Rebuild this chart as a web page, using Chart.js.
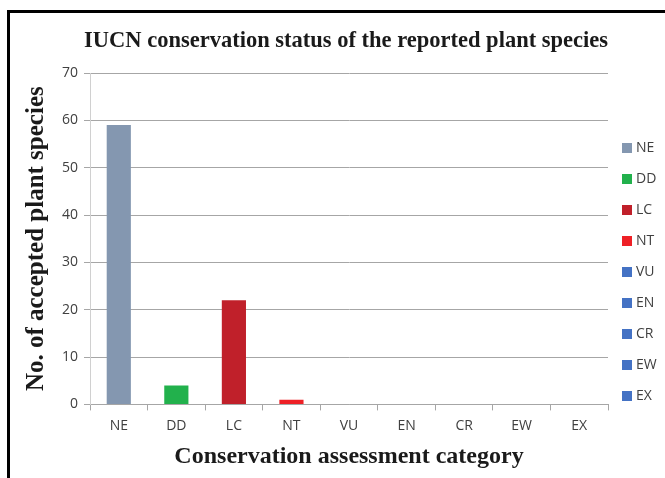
<!DOCTYPE html>
<html>
<head>
<meta charset="utf-8">
<script src="https://cdn.jsdelivr.net/npm/chart.js@4.4.1/dist/chart.umd.min.js"></script>
<style>
    html, body { margin: 0; padding: 0; background: #fff; overflow: hidden; }
    #wrap { position: relative; width: 665px; height: 478px; overflow: hidden; }
    .bar { position: absolute; background: #000; pointer-events: none; }
    canvas { position: absolute; left: 0; top: 0; }
</style>
</head>
<body>
<div id="wrap">
    <canvas id="iucnChart" width="665" height="478"></canvas>
    <div class="bar" style="left:7px; top:10px; width:3px; height:468px;"></div>
    <div class="bar" style="left:7px; top:10px; width:658px; height:3px;"></div>
</div>
<script>
// Categorias IUCN e número de espécies em cada uma
const categories = ['NE', 'DD', 'LC', 'NT', 'VU', 'EN', 'CR', 'EW', 'EX'];
const speciesCount = [59, 4, 22, 1, 0, 0, 0, 0, 0];
const barColors = ['#8497B0', '#22B14C', '#C0202A', '#EE2026', '#4472C4', '#4472C4', '#4472C4', '#4472C4', '#4472C4'];
const yTicks = [0, 10, 20, 30, 40, 50, 60, 70];

const serifBold = { family: "'Liberation Serif', 'Times New Roman', serif", weight: 'bold' };
const sans = "'Open Sans', 'Liberation Sans', sans-serif";

// Legenda desenhada à direita do gráfico, uma entrada por categoria
const sideLegend = {
    id: 'sideLegend',
    afterDraw: function(chart) {
        const c = chart.ctx;
        const area = chart.chartArea;
        const x = area.right + 14;
        const step = 31;
        const firstY = area.top + 75;
        c.save();
        c.font = '14px ' + sans;
        c.textBaseline = 'middle';
        c.textAlign = 'left';
        categories.forEach(function(cat, i) {
            const y = firstY + i * step;
            c.fillStyle = barColors[i];
            c.fillRect(x, y - 5, 10, 10);
            c.fillStyle = '#404040';
            c.fillText(cat, x + 14, y);
        });
        c.restore();
    }
};

document.addEventListener('DOMContentLoaded', function() {
    const ctx = document.getElementById('iucnChart').getContext('2d');
    new Chart(ctx, {
        type: 'bar',
        data: {
            labels: categories,
            datasets: [{
                label: 'Species',
                data: speciesCount,
                backgroundColor: barColors,
                borderWidth: 0,
                barPercentage: 0.42,
                categoryPercentage: 1
            }]
        },
        options: {
            responsive: false,
            animation: false,
            layout: { padding: { top: 28, left: 22, right: 57, bottom: 7 } },
            plugins: {
                title: {
                    display: true,
                    text: 'IUCN conservation status of the reported plant species',
                    align: 'end',
                    color: '#1a1a1a',
                    font: Object.assign({ size: 22.5 }, serifBold),
                    padding: { top: 0, bottom: 18 }
                },
                legend: { display: false },
                tooltip: { enabled: false }
            },
            scales: {
                x: {
                    grid: { drawOnChartArea: false, offset: true, tickLength: 6, color: '#a6a6a6' },
                    border: { color: '#a6a6a6' },
                    ticks: { color: '#404040', font: { family: sans, size: 14 }, padding: 7 },
                    title: {
                        display: true,
                        text: 'Conservation assessment category',
                        color: '#1a1a1a',
                        font: Object.assign({ size: 24 }, serifBold),
                        padding: { top: 1, bottom: 0 }
                    }
                },
                y: {
                    min: 0,
                    max: 70,
                    afterBuildTicks: function(axis) {
                        axis.ticks = yTicks.map(v => ({ value: v }));
                    },
                    grid: { color: '#a6a6a6', tickLength: 6 },
                    border: { color: '#d0d0d0' },
                    ticks: { color: '#404040', font: { family: sans, size: 14 }, padding: 6 },
                    title: {
                        display: true,
                        text: 'No. of accepted plant species',
                        color: '#1a1a1a',
                        font: Object.assign({ size: 25 }, serifBold),
                        padding: { top: 0, bottom: 4 }
                    }
                }
            }
        },
        plugins: [sideLegend]
    });
});
</script>
</body>
</html>
